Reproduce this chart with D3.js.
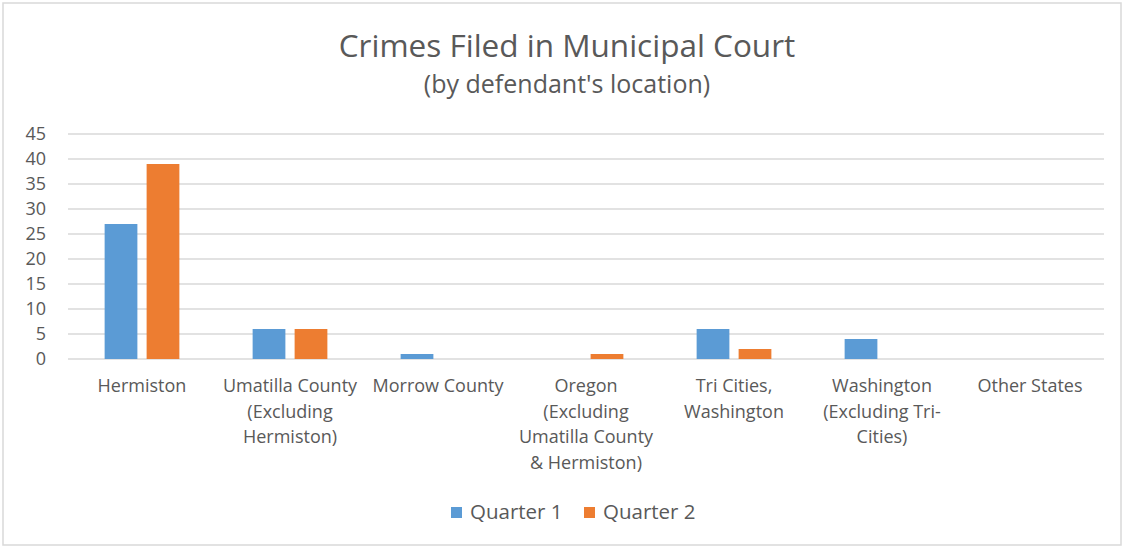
<!DOCTYPE html>
<html>
<head>
<meta charset="utf-8">
<script src="https://cdn.jsdelivr.net/npm/d3@7"></script>
<style>
  body { margin: 0; background: #fff; }
  text { font-family: "Open Sans", Lato, sans-serif; fill: #595959; }
</style>
</head>
<body>
<svg id="chart" width="1122" height="547"></svg>
<script>
// categories and their wrapped label lines
const categories = ["Hermiston", "Umatilla County", "Morrow County", "Oregon", "Tri Cities", "Washington", "Other States"];
const categoryLines = [
  ["Hermiston"],
  ["Umatilla County", "(Excluding", "Hermiston)"],
  ["Morrow County"],
  ["Oregon", "(Excluding", "Umatilla County", "& Hermiston)"],
  ["Tri Cities,", "Washington"],
  ["Washington", "(Excluding Tri-", "Cities)"],
  ["Other States"]
];
const seriesNames = ["Quarter 1", "Quarter 2"];
const quarter1 = [27, 6, 1, 0, 6, 4, 0];
const quarter2 = [39, 6, 0, 1, 2, 0, 0];
const yTicks = [0, 5, 10, 15, 20, 25, 30, 35, 40, 45];
const colors = ["#5b9bd5", "#ed7d31"];

const svg = d3.select("#chart");

// outer frame
svg.append("rect")
  .attr("x", 3).attr("y", 3)
  .attr("width", 1118).attr("height", 542)
  .attr("fill", "none")
  .attr("stroke", "#d9d9d9")
  .attr("stroke-width", 1.5);

const margin = { left: 68, right: 18, top: 134, bottom: 188 };
const width = 1122 - margin.left - margin.right;
const height = 547 - margin.top - margin.bottom;

const g = svg.append("g")
  .attr("transform", `translate(${margin.left},${margin.top})`);

const y = d3.scaleLinear().domain([0, 45]).range([height, 0]);

const x0 = d3.scaleBand()
  .domain(categories)
  .range([0, width])
  .padding(0);

const groupW = x0.bandwidth() * 0.505;
const x1 = d3.scaleBand()
  .domain(seriesNames)
  .range([0, groupW])
  .paddingInner(0.22);

// gridlines
g.append("g")
  .selectAll("line")
  .data(yTicks)
  .join("line")
    .attr("x1", 0).attr("x2", width)
    .attr("y1", d => y(d)).attr("y2", d => y(d))
    .attr("stroke", "#d9d9d9")
    .attr("stroke-width", 1.5);

// y axis labels
const yAxis = g.append("g")
  .call(d3.axisLeft(y).tickValues(yTicks).tickSize(0).tickPadding(22));
yAxis.select(".domain").remove();
yAxis.selectAll("text")
  .style("font-family", "'Open Sans', Lato, sans-serif")
  .style("font-size", "18px")
  .attr("fill", "#595959");

// bars
const data = categories.map((c, i) => ({ cat: c, values: [quarter1[i], quarter2[i]] }));

g.append("g")
  .selectAll("g")
  .data(data)
  .join("g")
    .attr("transform", d => `translate(${x0(d.cat) + (x0.bandwidth() - groupW) / 2},0)`)
  .selectAll("rect")
  .data(d => d.values.map((v, j) => ({ key: seriesNames[j], value: v, j })))
  .join("rect")
    .attr("x", d => x1(d.key))
    .attr("y", d => y(d.value))
    .attr("width", x1.bandwidth())
    .attr("height", d => y(0) - y(d.value))
    .attr("fill", d => colors[d.j]);

// x axis labels
const xl = g.append("g")
  .selectAll("text")
  .data(categories)
  .join("text")
    .attr("text-anchor", "middle")
    .attr("x", d => x0(d) + x0.bandwidth() / 2)
    .attr("y", height + 33)
    .style("font-size", "18px");
xl.selectAll("tspan")
  .data((d, i) => categoryLines[i])
  .join("tspan")
    .attr("x", function() { return d3.select(this.parentNode).attr("x"); })
    .attr("dy", (d, i) => i === 0 ? 0 : 25.5)
    .text(d => d);

// title
svg.append("text")
  .attr("x", 567).attr("y", 57)
  .attr("text-anchor", "middle")
  .style("font-size", "31.5px")
  .text("Crimes Filed in Municipal Court");
svg.append("text")
  .attr("x", 567).attr("y", 93)
  .attr("text-anchor", "middle")
  .style("font-size", "25px")
  .text("(by defendant's location)");

// legend
const legend = svg.append("g").attr("transform", "translate(451,519)");
const lx = [0, 133];
seriesNames.forEach((s, i) => {
  const item = legend.append("g").attr("transform", `translate(${lx[i]},0)`);
  item.append("rect")
    .attr("x", 0).attr("y", -12)
    .attr("width", 11).attr("height", 11)
    .attr("fill", colors[i]);
  item.append("text")
    .attr("x", 19).attr("y", 0)
    .style("font-size", "20.5px")
    .text(s);
});
</script>
</body>
</html>
